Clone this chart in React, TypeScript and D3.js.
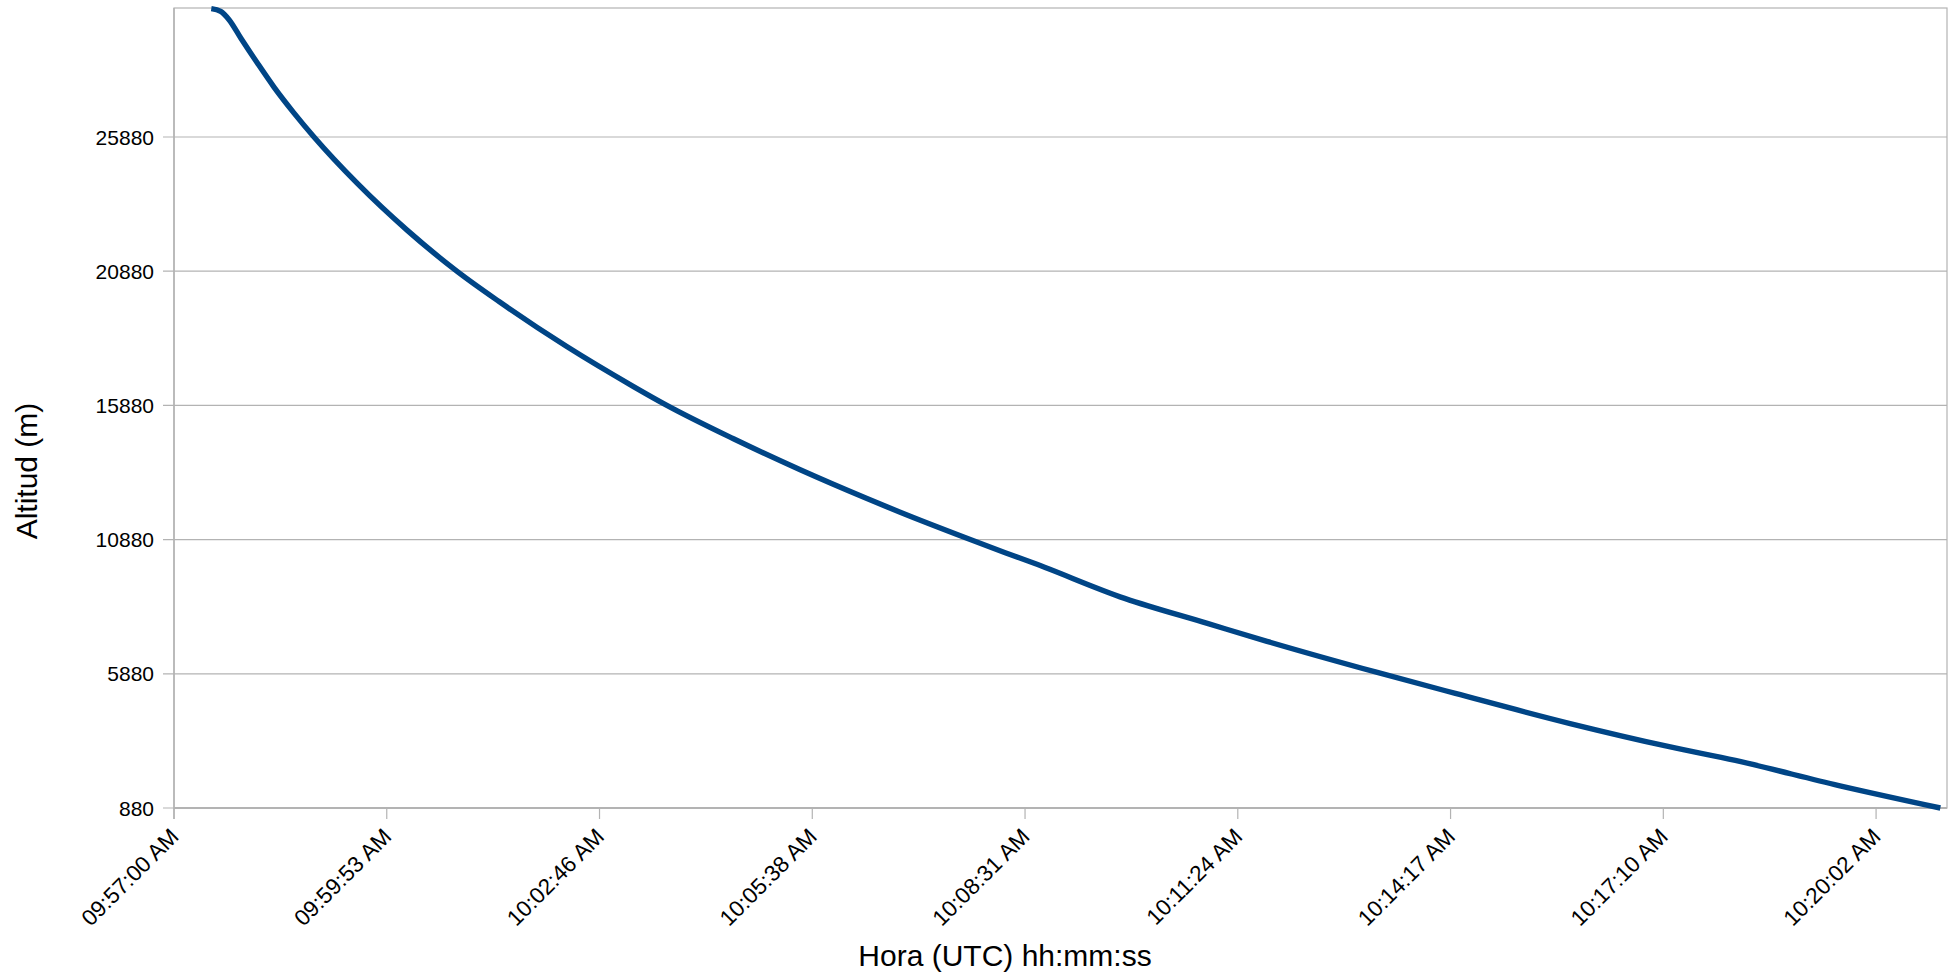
import React from "react";
import * as d3 from "d3";

// seconds elapsed since 09:57:00 UTC
const elapsedSeconds = [30.3, 37.9, 44.7, 54.2, 67.7, 81.2, 97.5, 113.7, 148.9, 189.5, 230.2, 264, 319, 373.2, 400.3, 454.4, 508.6, 562.8, 589.8, 646.7, 675.1, 698.1, 772.1, 839.3, 887.7, 977.3, 1040.7, 1133.9, 1215.3, 1268.1, 1352.2, 1434.6];
const altitudeM = [30660, 30559, 30250, 29568, 28636, 27741, 26771, 25880, 24150, 22400, 20864, 19749, 18071, 16581, 15880, 14636, 13482, 12409, 11896, 10880, 10390, 10006, 8689, 7758, 7090, 5930, 5150, 4028, 3156, 2651, 1715, 880];

const xTickSeconds = [0, 172.8, 345.6, 518.4, 691.2, 864, 1036.8, 1209.6, 1382.4];
const xTickLabels = ["09:57:00 AM", "09:59:53 AM", "10:02:46 AM", "10:05:38 AM", "10:08:31 AM", "10:11:24 AM", "10:14:17 AM", "10:17:10 AM", "10:20:02 AM"];
const yTickValues = [880, 5880, 10880, 15880, 20880, 25880];
const xDomain = [0, 1440];
const yDomain = [880, 30686];

const W = 1952;
const H = 977;
const L = 174, R = 1947, T = 8, B = 808;
const FONT = "'Liberation Sans', Arial, sans-serif";
const GRID = "#b3b3b3";

export default function App() {
  const x = d3.scaleLinear().domain(xDomain).range([L, R]);
  const y = d3.scaleLinear().domain(yDomain).range([B, T]);
  const data = elapsedSeconds.map((t, i) => ({ t, v: altitudeM[i] }));
  const line = d3
    .line<{ t: number; v: number }>()
    .x((d) => x(d.t))
    .y((d) => y(d.v))
    .curve(d3.curveMonotoneX);

  return (
    <svg
      width={W}
      height={H}
      style={{ position: "absolute", left: 0, top: 0, background: "#fff" }}
      fontFamily={FONT}
    >
      <rect x={0} y={0} width={W} height={H} fill="#fff" />
      {/* grid */}
      {yTickValues.map((v) => (
        <line key={"g" + v} x1={L - 11} x2={R} y1={y(v)} y2={y(v)} stroke={GRID} strokeWidth={1.2} />
      ))}
      {/* frame */}
      <rect x={L} y={T} width={R - L} height={B - T} fill="none" stroke={GRID} strokeWidth={1.2} />
      <line x1={L} x2={R} y1={B} y2={B} stroke={GRID} strokeWidth={2} />
      <line x1={L} x2={L} y1={T} y2={B + 11} stroke={GRID} strokeWidth={1.5} />
      {/* x ticks */}
      {xTickSeconds.map((s, i) => (
        <g key={"xt" + i}>
          <line x1={x(s)} x2={x(s)} y1={B} y2={B + 11} stroke={GRID} strokeWidth={1.2} />
          <text
            transform={`translate(${x(s) + 6},${838}) rotate(-45)`}
            textAnchor="end"
            fontSize={22.5}
            fill="#000"
          >
            {xTickLabels[i]}
          </text>
        </g>
      ))}
      {/* y labels */}
      {yTickValues.map((v) => (
        <text
          key={"yl" + v}
          x={154}
          y={y(v)}
          dy="0.36em"
          textAnchor="end"
          fontSize={21}
          fill="#000"
        >
          {v}
        </text>
      ))}
      {/* series */}
      <path d={line(data) || ""} fill="none" stroke="#004586" strokeWidth={5.4} strokeLinejoin="round" strokeLinecap="butt" />
      {/* axis titles */}
      <text x={1005} y={966} textAnchor="middle" fontSize={30} fill="#000">
        Hora (UTC) hh:mm:ss
      </text>
      <text
        transform={`translate(37,471) rotate(-90)`}
        textAnchor="middle"
        fontSize={30}
        fill="#000"
      >
        Altitud (m)
      </text>
    </svg>
  );
}
